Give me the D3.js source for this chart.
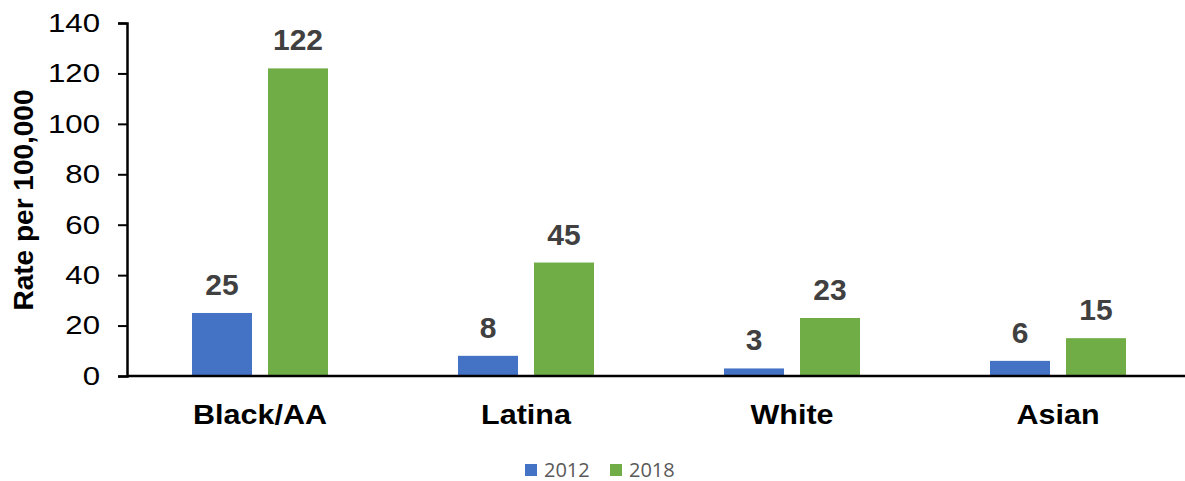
<!DOCTYPE html>
<html>
<head>
<meta charset="utf-8">
<script src="https://cdn.jsdelivr.net/npm/d3@7"></script>
<style>
  body { margin: 0; background: #fff; }
  svg text { font-family: "Liberation Sans", Arial, sans-serif; }
</style>
</head>
<body>
<svg id="chart" width="1185" height="481"></svg>
<script>
const categories = ["Black/AA", "Latina", "White", "Asian"]
const series = ["2012", "2018"]
const values2012 = [25, 8, 3, 6]
const values2018 = [122, 45, 23, 15]
const yTicks = [0, 20, 40, 60, 80, 100, 120, 140]
const colors = ["#4472c4", "#70ad47"]

const svg = d3.select("#chart")

const y = d3.scaleLinear()
            .domain([0, 140])
            .range([376, 23])

const x0 = d3.scaleBand()
             .domain(categories)
             .range([127, 1191])

const x1 = d3.scaleBand()
             .domain(series)
             .range([65, 201])
             .paddingInner(0.2105)

const rows = categories.map((c, i) => ({ cat: c, vals: [values2012[i], values2018[i]] }))

// y axis (text in the reference is a bit stretched sideways)
const stretch = 1.2
const yAxis = svg.append("g")
                 .attr("transform", "translate(127,0)")
                 .call(d3.axisLeft(y).tickValues(yTicks).tickSize(9).tickPadding(18))
yAxis.select(".domain").attr("stroke", "#000").attr("stroke-width", 2.5)
yAxis.selectAll(".tick line").attr("stroke", "#000").attr("stroke-width", 2)
yAxis.selectAll(".tick text")
     .attr("font-size", 26)
     .attr("fill", "#000")
     .attr("x", -27 / stretch)
     .attr("transform", "scale(" + stretch + ",1)")
     .attr("font-family", "Liberation Sans, Arial, sans-serif")

// bars
const groups = svg.selectAll(".grp")
                  .data(rows)
                  .enter()
                  .append("g")
                  .attr("class", "grp")
                  .attr("transform", d => "translate(" + x0(d.cat) + ",0)")

groups.selectAll("rect")
      .data(d => d.vals.map((v, j) => ({ s: series[j], v: v, j: j })))
      .enter()
      .append("rect")
      .attr("x", d => x1(d.s))
      .attr("y", d => y(d.v))
      .attr("width", x1.bandwidth())
      .attr("height", d => y(0) - y(d.v))
      .attr("fill", d => colors[d.j])

groups.selectAll(".val")
      .data(d => d.vals.map((v, j) => ({ s: series[j], v: v })))
      .enter()
      .append("text")
      .attr("class", "val")
      .attr("x", d => x1(d.s) + x1.bandwidth() / 2)
      .attr("y", d => y(d.v) - 18)
      .attr("text-anchor", "middle")
      .attr("font-size", 30)
      .attr("font-weight", "bold")
      .attr("fill", "#404040")
      .text(d => d.v)

// x axis line
svg.append("line")
   .attr("x1", 127).attr("x2", 1191)
   .attr("y1", y(0)).attr("y2", y(0))
   .attr("stroke", "#000")
   .attr("stroke-width", 2.5)

// category labels
svg.selectAll(".cat")
   .data(categories)
   .enter()
   .append("text")
   .attr("class", "cat")
   .attr("transform", d => "translate(" + (x0(d) + x0.bandwidth() / 2) + ",424) scale(1.13,1)")
   .attr("text-anchor", "middle")
   .attr("font-size", 27)
   .attr("font-weight", "bold")
   .attr("fill", "#000")
   .text(d => d)

// y title
svg.append("text")
   .attr("transform", "translate(33,200) rotate(-90)")
   .attr("text-anchor", "middle")
   .attr("font-size", 28)
   .attr("font-weight", "bold")
   .attr("fill", "#000")
   .text("Rate per 100,000")

// legend
const legend = svg.selectAll(".leg")
                  .data(series)
                  .enter()
                  .append("g")
                  .attr("class", "leg")
                  .attr("transform", (d, i) => "translate(" + (525 + i * 85) + ",464)")
legend.append("rect")
      .attr("width", 12).attr("height", 12)
      .attr("fill", (d, i) => colors[i])
legend.append("text")
      .attr("x", 19).attr("y", 12.5)
      .attr("font-size", 20)
      .attr("fill", "#595959")
      .style("font-family", "'Open Sans', sans-serif")
      .text(d => d)
</script>
</body>
</html>
